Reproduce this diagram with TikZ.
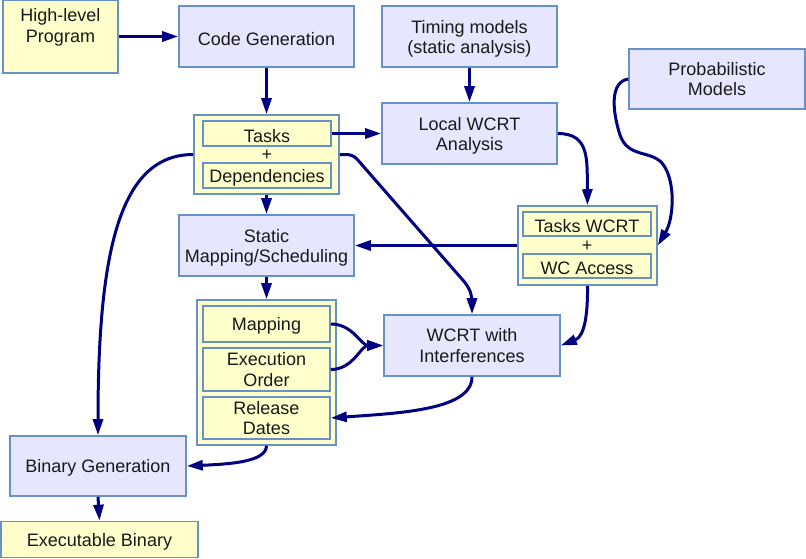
\documentclass[tikz,border=0pt]{standalone}
\usepackage{fontspec}
\setmainfont{Liberation Sans}
\usetikzlibrary{arrows.meta}
\definecolor{bfill}{RGB}{230,230,255}
\definecolor{yfill}{RGB}{255,255,204}
\definecolor{bord}{RGB}{104,145,200}
\definecolor{arr}{RGB}{0,0,128}
\newcommand\tstrut{\rule{0pt}{17.5pt}}
\tikzset{
  box/.style={draw=bord, line width=1.6pt, align=center, inner sep=0pt,
    font=\fontsize{18}{20.5}\selectfont, text=black!90},
  bbox/.style={box, fill=bfill},
  ybox/.style={box, fill=yfill},
  conn/.style={draw=arr, line width=3pt, -{Triangle[length=16pt,width=10pt]}},
  lbl/.style={font=\fontsize{18}{20.5}\selectfont, text=black!90, inner sep=0pt, align=center}
}
\begin{document}
\begin{tikzpicture}[x=1pt,y=-1pt]
\useasboundingbox (0,0) rectangle (806,558);
% main boxes
\node[ybox, minimum width=115pt, minimum height=73pt] (hl) at (60.5,36.5) {};
\node[lbl] (hlt) at (60.5,27.5) {High-level\\Program};
\node[bbox, minimum width=175pt, minimum height=61pt] (cg) at (266.5,36.5) {\tstrut Code Generation};
\node[bbox, minimum width=175pt, minimum height=61pt] (tm) at (469.5,36.5) {\tstrut Timing models\\(static analysis)};
\node[bbox, minimum width=175pt, minimum height=61pt] (lw) at (469.5,133.5) {\tstrut Local WCRT\\Analysis};
\node[bbox, minimum width=176pt, minimum height=60pt] (pm) at (717,79) {Probabilistic\\Models};
% tasks + dependencies group
\node[ybox, minimum width=145pt, minimum height=79pt] (tg) at (266.5,154.5) {};
\node[ybox, minimum width=128pt, minimum height=25pt] (tk) at (267,133.5) {\tstrut Tasks};
\node[lbl] (tp) at (267,155.5) {+};
\node[ybox, minimum width=128pt, minimum height=25pt] (dp) at (267,175.5) {\tstrut Dependencies};
% tasks wcrt group
\node[ybox, minimum width=139pt, minimum height=79pt] (wg) at (587.5,245.5) {};
\node[ybox, minimum width=128pt, minimum height=24pt] (tw) at (587,224) {\tstrut Tasks WCRT};
\node[lbl] (wp) at (587,246.5) {+};
\node[ybox, minimum width=128pt, minimum height=24pt] (wa) at (587,266) {\tstrut WC Access};
% static mapping
\node[bbox, minimum width=175pt, minimum height=61pt] (sm) at (266.5,245.5) {\tstrut Static\\Mapping/Scheduling};
% mapping group
\node[ybox, minimum width=139pt, minimum height=145pt] (mg) at (266.5,372.5) {};
\node[ybox, minimum width=127pt, minimum height=36pt] (mp) at (266.5,324) {\tstrut Mapping};
\node[ybox, minimum width=127pt, minimum height=43pt] (eo) at (266.5,369.5) {Execution\\Order};
\node[ybox, minimum width=127pt, minimum height=42pt] (rd) at (266.5,418) {Release\\Dates};
% wcrt with interferences
\node[bbox, minimum width=176pt, minimum height=61pt] (wi) at (472,345.5) {WCRT with\\Interferences};
% binary
\node[bbox, minimum width=176pt, minimum height=60pt] (bg) at (98,466) {\tstrut Binary Generation};
\node[ybox, minimum width=197pt, minimum height=36pt] (eb) at (99.5,539.5) {\tstrut Executable Binary};
% connectors
\draw[conn] (hl.east) -- (cg.west);
\draw[conn] (cg.south) -- (tg.north);
\draw[conn] (tk.east) -- (lw.west |- tk.east);
\draw[conn] (tm.south) -- (lw.north);
\draw[conn] (lw.east) .. controls (590,133.5) and (587,160) .. (wg.north);
\draw[conn] (pm.west) .. controls (610,82) and (612,110) .. (620,135) .. controls (628,158) and (650,150) .. (662,163) .. controls (676,180) and (674,218) .. (wg.east);
\draw[conn] (wg.west) -- (sm.east |- wg.west);
\draw[conn] (tg.south) -- (sm.north);
\draw[conn, rounded corners=6pt] (tg.east) -- (353,154.5) -- (468,286) -- (472,296) -- (wi.north);
\draw[conn] (tg.west) .. controls (120,154.5) and (98,250) .. (bg.north);
\draw[conn] (sm.south) -- (mg.north);
\draw[conn] (mp.east) to[out=0,in=180] (wi.west);
\draw[conn] (eo.east) to[out=0,in=180] (wi.west);
\draw[conn] (wg.south) .. controls (588,330) and (580,338) .. (wi.east);
\draw[conn] (wi.south) .. controls (472,410) and (400,413) .. (rd.east);
\draw[conn] (mg.south) .. controls (266,462) and (230,464) .. (bg.east);
\draw[conn] (bg.south) -- (eb.north);
\end{tikzpicture}
\end{document}
